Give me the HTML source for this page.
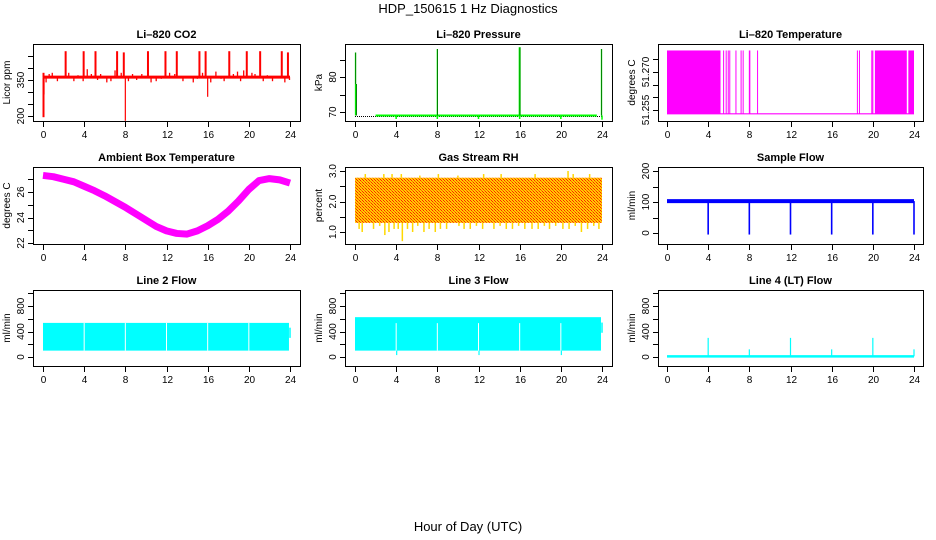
<!DOCTYPE html>
<html><head><meta charset="utf-8"><style>
html,body{margin:0;padding:0;background:#fff;}
svg{display:block;font-family:"Liberation Sans",Arial,sans-serif;}
</style></head><body>
<svg id="c" width="936" height="540" viewBox="0 0 936 540" xmlns="http://www.w3.org/2000/svg">
<defs>
<pattern id="rhpat" width="3" height="3" patternUnits="userSpaceOnUse">
<rect width="3" height="3" fill="#ffcc00"/><rect width="1" height="1" fill="#ff2000"/><rect x="1" y="1" width="1" height="1" fill="#ff6000"/><rect x="2" y="2" width="1" height="1" fill="#ff2000"/>
</pattern>
</defs>
<text x="468" y="13" font-size="13" text-anchor="middle">HDP_150615  1 Hz Diagnostics</text>
<text x="468" y="531" font-size="13" text-anchor="middle">Hour of Day (UTC)</text>
</svg>
<script>
// ---- data ----
const xTicks = [0,4,8,12,16,20,24];
const co2Base = 362;
const co2SpikeHours = [2.2,3.95,5.1,7.2,7.85,10.2,11.9,13,15.2,15.8,18.1,19.8,21.1,23.2,23.8];
const co2SpikeValues = [470,470,470,470,465,470,470,470,470,470,470,470,470,470,465];
const co2SmallHours = [0.3,0.6,0.9,1.4,2.5,3.0,3.4,3.9,4.3,4.7,5.3,5.6,6.2,6.6,7.0,7.6,8.3,8.7,9.1,9.6,10.5,11.0,11.5,12.3,12.8,13.6,14.1,14.6,15.0,15.5,16.3,16.8,17.3,17.6,18.5,18.9,19.2,19.5,20.3,20.6,21.4,21.8,22.3,22.8,23.5,23.95];
const co2SmallValues = [340,375,380,345,380,345,370,345,395,375,350,375,340,345,390,380,345,375,350,375,340,345,355,380,375,345,360,340,355,380,340,385,355,345,375,385,345,390,380,375,345,370,345,365,340,350];
const co2DipHours = [0.05,0.1,8.0,16.0];
const co2DipValues = [195,290,180,280];

const presBase = 69;
const presSpikeHours = [0.05,0.12,8.0,16.0,23.95];
const presSpikeValues = [87,78,88,88.5,88];
const presDipHours = [4,8,12,16,20,24];
const presDipValues = [68,68,68,68,68,67.8];

const ltLow = 51.2535, ltHigh = 51.2785;
const ltDenseStart = [0,20.2,23.45];
const ltDenseEnd = [5.2,23.3,24];
const ltSpikeHours = [5.5,5.75,5.95,6.1,6.7,7.2,7.4,8.0,8.05,8.8,18.5,18.7,19.9,20.0];

const ambHours = [0,1,2,3,4,5,6,7,8,9,10,11,12,13,14,15,16,17,18,19,20,21,22,23,24];
const ambValues = [27.3,27.2,27.0,26.8,26.45,26.1,25.7,25.25,24.8,24.3,23.8,23.3,22.95,22.75,22.7,22.95,23.35,23.85,24.5,25.3,26.2,26.9,27.05,26.95,26.7];

const rhTop = 2.78, rhBottom = 1.3;
const rhSpikeHours = [0.4,0.7,1.2,1.8,2.4,2.9,3.3,3.8,4.2,4.6,5.1,5.6,6.1,6.7,7.2,7.8,8.3,8.9,9.5,10.1,10.6,11.2,11.8,12.4,12.9,13.5,14.1,14.7,15.3,15.9,16.5,17.2,17.8,18.4,18.9,19.5,20.2,20.8,21.4,22.0,22.6,23.2,23.7];
const rhSpikeValues = [1.1,1.0,1.3,1.1,1.2,0.9,1.0,1.1,1.1,0.7,1.1,1.0,1.2,1.0,1.1,1.0,1.1,1.1,1.3,1.2,1.1,1.1,1.2,1.1,1.3,1.1,1.2,1.1,1.1,1.2,1.1,1.1,1.1,1.2,1.1,1.2,1.1,1.1,1.2,1.0,1.1,1.2,1.1];
const rhTopSpikeHours = [1.0,2.8,3.6,4.5,6.3,8.1,10.0,12.5,14.2,17.5,20.7,21.2,22.8];
const rhTopSpikeValues = [2.9,2.9,2.9,2.9,2.85,2.9,2.85,2.9,2.9,2.9,3.0,2.9,2.9];

const sfBase = 103;
const sfDipHours = [4,8,12,16,20,24];
const sfDipValues = [-5,-5,-5,-5,-5,-5];

const l2Low = 100, l2High = 535;
const l2GapHours = [4,8,12,16,20];
const l3Low = 100, l3High = 625;
const l3GapHours = [4,8,12,16,20];
const l3DipHours = [4,12,20];
const l3DipValues = [30,30,30];
const l4Base = 10;
const l4SpikeHours = [4,8,12,16,20,24];
const l4SpikeValues = [300,120,300,120,300,120];

// ---- layout ----
const cols = [{l:33,r:300,x0:43,x1:290},{l:345,r:612,x0:355,x1:602},{l:658,r:923,x0:667,x1:914}];
const rows = [{t:44,b:121},{t:167,b:244},{t:290,b:366}];
const svg = document.getElementById('c');
const NS = 'http://www.w3.org/2000/svg';
function add(parent, tag, attrs, name){
  const el = document.createElementNS(NS, tag);
  for (const k in attrs) el.setAttribute(k, attrs[k]);
  
  
  parent.appendChild(el);
  return el;
}
function panel(ci, ri, title, ylab, v0, p0, v1, p1, ticks, labels, name){
  const c = cols[ci], r = rows[ri];
  const g = add(svg, 'g', {}, name);
  const xs = h => c.x0 + (c.x1 - c.x0) * h / 24;
  const ys = v => p0 + (p1 - p0) * (v - v0) / (v1 - v0);
  const t = add(g, 'text', {x:(c.l+c.r)/2, y:r.t-6, 'font-size':11, 'font-weight':'bold', 'text-anchor':'middle'}, name+'-title');
  t.textContent = title;
  add(g, 'rect', {x:c.l+0.5, y:r.t+0.5, width:c.r-c.l, height:r.b-r.t, fill:'none', stroke:'#000'}, name+'-frame');
  xTicks.forEach(h => {
    const x = Math.round(xs(h))+0.5;
    add(g, 'line', {x1:x, x2:x, y1:r.b, y2:r.b+6, stroke:'#000'}, 'x-tick');
    const tl = add(g, 'text', {x:x, y:r.b+17, 'font-size':10, 'text-anchor':'middle'}, 'x-tick-label');
    tl.textContent = h;
  });
  ticks.forEach(v => {
    const y = Math.round(ys(v))+0.5;
    add(g, 'line', {x1:c.l-5, x2:c.l, y1:y, y2:y, stroke:'#000'}, 'y-tick');
  });
  labels.forEach(v => {
    const y = ys(+v);
    const tl = add(g, 'text', {x:0, y:0, 'font-size':10, 'text-anchor':'middle', transform:`translate(${c.l-9},${y}) rotate(-90)`}, 'y-tick-label');
    tl.textContent = v;
  });
  const yl = add(g, 'text', {x:0, y:0, 'font-size':10, 'text-anchor':'middle', transform:`translate(${c.l-23},${(r.t+r.b)/2}) rotate(-90)`}, 'y-axis-title');
  yl.textContent = ylab;
  return {g, xs, ys};
}
function vline(p, h, va, vb, color, w, name){
  const x = p.xs(h);
  add(p.g, 'line', {x1:x, x2:x, y1:p.ys(va), y2:p.ys(vb), stroke:color, 'stroke-width':w}, name);
}

// CO2
let p = panel(0,0,'Li\u2013820 CO2','Licor ppm',200,116,350,80,[200,250,300,350,400,450],['200','350'],'co2-panel');
co2SmallHours.forEach((h,i)=>vline(p,h,co2Base,co2SmallValues[i],'#ff0000',1.3,'co2-small-spike'));
co2SpikeHours.forEach((h,i)=>vline(p,h,co2Base,co2SpikeValues[i],'#ff0000',2,'co2-spike'));
co2DipHours.forEach((h,i)=>vline(p,h,co2Base,co2DipValues[i],'#ff0000',i==0?2:1.2,'co2-dip'));
vline(p,0.05,co2Base,380,'#ff0000',2,'co2-spike');
add(p.g,'line',{x1:p.xs(0),x2:p.xs(24),y1:p.ys(co2Base),y2:p.ys(co2Base),stroke:'#ff0000','stroke-width':3},'co2-line');

// Pressure
p = panel(1,0,'Li\u2013820 Pressure','kPa',70,112,80,77,[70,75,80,85],['70','80'],'pressure-panel');
add(p.g,'line',{x1:p.xs(0),x2:p.xs(24),y1:p.ys(presBase-0.3),y2:p.ys(presBase-0.3),stroke:'#000','stroke-width':1,'stroke-dasharray':'1 1'},'pressure-baseline-dots');
add(p.g,'line',{x1:p.xs(2),x2:p.xs(23.5),y1:p.ys(presBase),y2:p.ys(presBase),stroke:'#00ff00','stroke-width':2},'pressure-line');
presDipHours.forEach((h,i)=>vline(p,h,presBase,presDipValues[i],'#00ff00',1.5,'pressure-dip'));
presSpikeHours.forEach((h,i)=>{
  vline(p,h,presBase,presSpikeValues[i],'#00ff00',i==3?2:1.3,'pressure-spike');
  vline(p,h+0.03,presBase,presSpikeValues[i],'#000',0.5,'pressure-spike-dots');
});

// Li-820 temperature
p = panel(2,0,'Li\u2013820 Temperature','degrees C',51.255,110,51.27,72,[51.255,51.26,51.265,51.27,51.275],['51.255','51.270'],'li820-temp-panel');
add(p.g,'line',{x1:p.xs(0),x2:p.xs(24),y1:p.ys(ltLow),y2:p.ys(ltLow),stroke:'#ff00ff','stroke-width':1.2},'li820-temp-baseline');
ltDenseStart.forEach((s,i)=>{
  add(p.g,'rect',{x:p.xs(s),y:p.ys(ltHigh),width:p.xs(ltDenseEnd[i])-p.xs(s),height:p.ys(ltLow)-p.ys(ltHigh),fill:'#ff00ff'},'li820-temp-dense');
});
ltSpikeHours.forEach(h=>vline(p,h,ltLow,ltHigh,'#ff00ff',1,'li820-temp-spike'));

// Ambient
p = panel(0,1,'Ambient Box Temperature','degrees C',22,243,26,192,[22,23,24,25,26,27],['22','24','26'],'ambient-panel');
add(p.g,'polyline',{points:ambHours.map((h,i)=>p.xs(h)+','+p.ys(ambValues[i])).join(' '),fill:'none',stroke:'#ff00ff','stroke-width':7,'stroke-linejoin':'round'},'ambient-line');

// RH
p = panel(1,1,'Gas Stream RH','percent',1,232,3,171,[1,1.5,2,2.5,3],['1.0','2.0','3.0'],'rh-panel');
add(p.g,'rect',{x:p.xs(0),y:p.ys(rhTop),width:p.xs(24)-p.xs(0),height:p.ys(rhBottom)-p.ys(rhTop),fill:'url(#rhpat)'},'rh-band');
rhSpikeHours.forEach((h,i)=>vline(p,h,rhBottom,rhSpikeValues[i],'#ffd800',1.5,'rh-spike'));
rhTopSpikeHours.forEach((h,i)=>vline(p,h,rhTop,rhTopSpikeValues[i],'#ffd800',1.5,'rh-top-spike'));

// Sample flow
p = panel(2,1,'Sample Flow','ml/min',0,233,200,171,[0,50,100,150,200],['0','100','200'],'sample-flow-panel');
add(p.g,'line',{x1:p.xs(0),x2:p.xs(24),y1:p.ys(sfBase),y2:p.ys(sfBase),stroke:'#0000ff','stroke-width':4},'sample-flow-line');
sfDipHours.forEach((h,i)=>vline(p,h,sfBase,sfDipValues[i],'#0000ff',1.6,'sample-flow-dip'));

// Line 2
p = panel(0,2,'Line 2 Flow','ml/min',0,357,800,306,[0,200,400,600,800,1000],['0','400','800'],'line2-panel');
add(p.g,'rect',{x:p.xs(0),y:p.ys(l2High),width:p.xs(23.9)-p.xs(0),height:p.ys(l2Low)-p.ys(l2High),fill:'#00ffff'},'line2-band');
l2GapHours.forEach(h=>vline(p,h,l2Low,l2High,'#fff',1,'line2-gap'));
vline(p,24,300,460,'#00ffff',1.5,'line2-end');

// Line 3
p = panel(1,2,'Line 3 Flow','ml/min',0,357,800,306,[0,200,400,600,800,1000],['0','400','800'],'line3-panel');
add(p.g,'rect',{x:p.xs(0),y:p.ys(l3High),width:p.xs(23.9)-p.xs(0),height:p.ys(l3Low)-p.ys(l3High),fill:'#00ffff'},'line3-band');
l3GapHours.forEach(h=>vline(p,h,l3Low,l3High*0.85,'#fff',1,'line3-gap'));
l3DipHours.forEach((h,i)=>vline(p,h+0.05,l3Low,l3DipValues[i],'#00ffff',1.2,'line3-dip'));
vline(p,24,380,540,'#00ffff',1.5,'line3-end');

// Line 4
p = panel(2,2,'Line 4 (LT) Flow','ml/min',0,357,800,306,[0,200,400,600,800,1000],['0','400','800'],'line4-panel');
add(p.g,'line',{x1:p.xs(0),x2:p.xs(24),y1:p.ys(l4Base),y2:p.ys(l4Base),stroke:'#00ffff','stroke-width':2.5},'line4-line');
l4SpikeHours.forEach((h,i)=>vline(p,h,l4Base,l4SpikeValues[i],'#00ffff',1.2,'line4-spike'));
</script>
</body></html>
